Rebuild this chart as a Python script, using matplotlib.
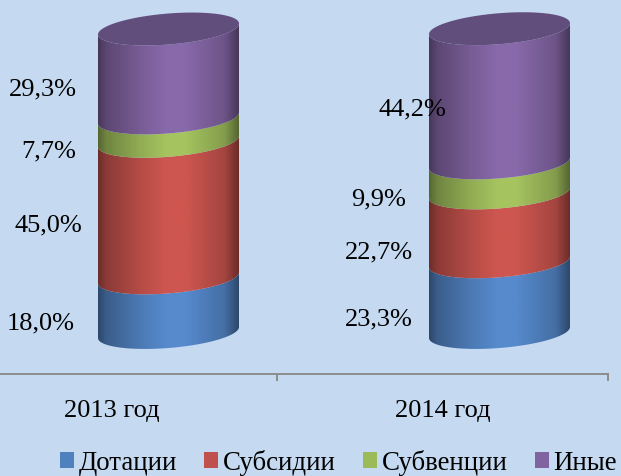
import numpy as np
import matplotlib
matplotlib.use('Agg')
import matplotlib.pyplot as plt
from matplotlib.patches import Polygon, Rectangle

# DATA
years = ['2013 год', '2014 год']
series_names = ['Дотации', 'Субсидии', 'Субвенции', 'Иные']
dotacii = [18.0, 23.3]
subsidii = [45.0, 22.7]
subvencii = [7.7, 9.9]
inye = [29.3, 44.2]
values = [dotacii, subsidii, subvencii, inye]
colors = [(86, 138, 205), (206, 86, 80), (165, 196, 95), (136, 105, 170)]
legend_colors = ['#4F81BD', '#C0504D', '#9BBB59', '#8064A2']
top_color = '#624E7C'
bg = '#C5D9F1'

plt.rcParams['font.family'] = ['Liberation Serif', 'DejaVu Serif']

W, H = 621, 477
fig = plt.figure(figsize=(W/100, H/100), dpi=100, facecolor=bg)
# axis line sits at pixel row 375, ends on last tick at x=608
ax = fig.add_axes([0, (H-375)/H, 608/W, 375/H], facecolor=bg)

px_per_cat = 331.0
px_per_pct = 3.035
ax_xlim = (-111.5/px_per_cat, 1.5)
ax_ylim = ((333.5-375)/px_per_pct, 333.5/px_per_pct)

shift = 57/px_per_cat       # 3D depth pushes the cylinders right of the tick centre
a = 70.5/px_per_cat
b = 15.5/px_per_pct
tilt = 5.5/px_per_pct       # rise of the ellipse from centre to right edge


def arc(cx, level):
    t = np.linspace(np.pi, 2*np.pi, 80)
    return np.c_[cx + a*np.cos(t), level + b*np.sin(t) + tilt*np.cos(t)]


shade_x = np.linspace(0, 1, 256)
shade = np.interp(shade_x, [0, .06, .3, .48, .62, .9, 1], [.52, .68, .88, 1, 1, .8, .52])

for i in range(len(years)):
    cx = i + shift
    base = 0
    for vals, col in zip(values, colors):
        top = base + vals[i]
        poly = np.vstack([arc(cx, base), arc(cx, top)[::-1]])
        img = np.outer(shade, np.array(col)/255)[None, :, :]
        im = ax.imshow(img, extent=(cx-a, cx+a, -20, 120), aspect='auto', zorder=2, interpolation='bilinear')
        clip = Polygon(poly, closed=True, transform=ax.transData)
        im.set_clip_path(clip)
        base = top
    t = np.linspace(0, 2*np.pi, 160)
    ax.add_patch(Polygon(np.c_[cx + a*np.cos(t), base + b*np.sin(t) + tilt*np.cos(t)],
                         closed=True, fc=top_color, ec='none', zorder=3))

ax.set_xlim(ax_xlim)
ax.set_ylim(ax_ylim)

for s in ['top', 'left', 'right']:
    ax.spines[s].set_visible(False)
ax.spines['bottom'].set_color('#8C8C8C')
ax.spines['bottom'].set_linewidth(1.4)
ax.set_yticks([])
ax.set_xticks([0, 1])
ax.set_xticklabels(years, fontsize=19)
ax.tick_params(axis='x', which='major', length=0, pad=18)
ax.set_xticks([0.5, 1.5], minor=True)
ax.tick_params(axis='x', which='minor', length=5, width=1.4, color='#8C8C8C')

# value labels, pixel centres
label_x = [[41, 48, 49, 43], [379, 379, 379, 412]]
label_y = [[323.5, 225.5, 151.5, 89.5], [319.5, 252.5, 199.5, 109.5]]
for i in range(len(years)):
    for j, vals in enumerate(values):
        txt = f'{vals[i]:.1f}%'.replace('.', ',')
        fig.text(label_x[i][j]/W, 1-label_y[i][j]/H, txt, fontsize=19, ha='center', va='center')

handles = [Rectangle((0, 0), 1, 1, fc=c, ec='none') for c in legend_colors]
fig.legend(handles, series_names, loc='lower left', bbox_to_anchor=(60/W, 0.5/H), ncol=4, frameon=False,
           fontsize=19.4, handlelength=0.52, handleheight=0.52, handletextpad=0.18, columnspacing=1.0,
           borderpad=0, borderaxespad=0, labelspacing=0)

fig.savefig('out.png', dpi=100, facecolor=bg)
